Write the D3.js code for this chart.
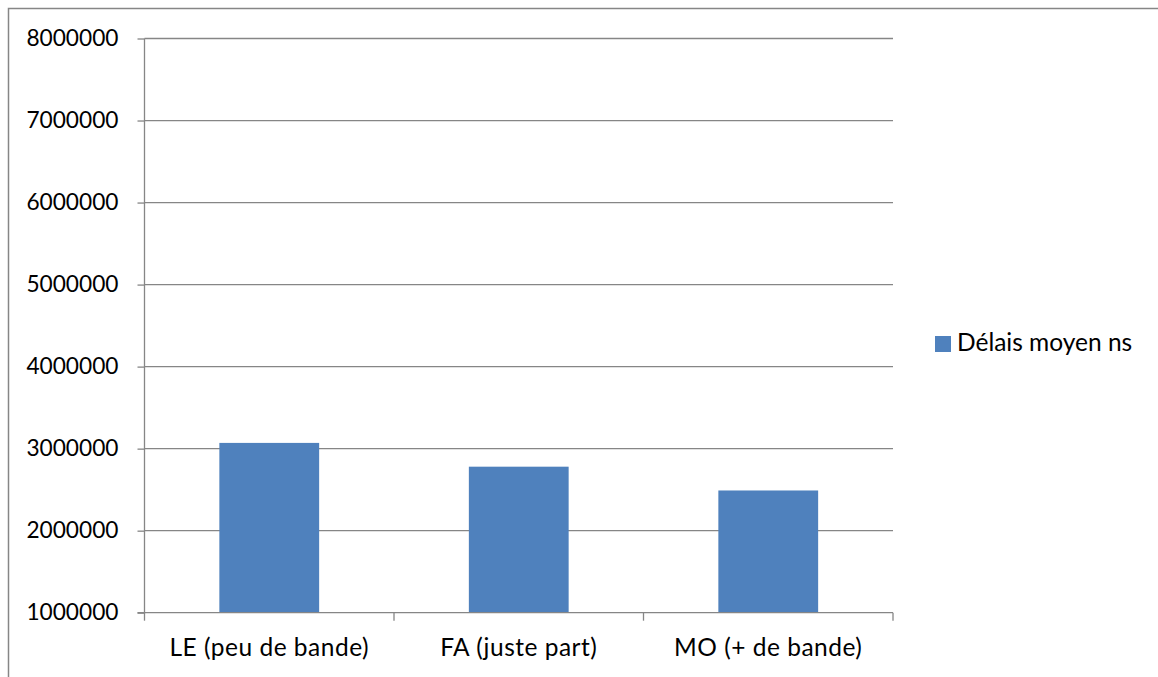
<!DOCTYPE html>
<html><head><meta charset="utf-8">
<script src="https://cdn.jsdelivr.net/npm/d3@7"></script>
<style>body{margin:0;background:#fff}svg{display:block}text{font-family:Lato,"Open Sans",sans-serif;fill:#000}</style>
</head><body><svg id="c" width="1158" height="677"></svg>
<script>
const categories = ["LE (peu de bande)", "FA (juste part)", "MO (+ de bande)"];
const values = [3070000, 2780000, 2490000];
const seriesName = "Délais moyen ns";
const yTicks = [1000000, 2000000, 3000000, 4000000, 5000000, 6000000, 7000000, 8000000];

(function(){
const svg = d3.select("#c");
const pLeft = 144.5, pRight = 893, pTop = 38.5, pBottom = 612.7;
const x = d3.scaleBand().domain(categories).range([pLeft, pRight]).paddingInner(0.6).paddingOuter(0.3);
const xb = d3.scaleBand().domain(categories).range([pLeft, pRight]);
const y = d3.scaleLinear().domain([1000000, 8000000]).range([pBottom, pTop]);
const grey = "#868686";

// chart border (top and left visible)
svg.append("path").attr("d", `M8.5,677 V8.5 H1158`).attr("fill","none").attr("stroke", grey).attr("stroke-width",1.5);

// gridlines
svg.append("g").selectAll("line").data(yTicks.slice(1)).join("line")
  .attr("x1", pLeft).attr("x2", pRight).attr("y1", d=>y(d)).attr("y2", d=>y(d))
  .attr("stroke", grey).attr("stroke-width",1.3);

// bars
svg.append("g").selectAll("rect").data(values).join("rect")
  .attr("x", (d,i)=>x(categories[i])).attr("width", x.bandwidth())
  .attr("y", d=>y(d)).attr("height", d=>pBottom - y(d))
  .attr("fill", "#4f81bd");

// y axis
const ya = svg.append("g").attr("transform",`translate(${pLeft},0)`)
  .call(d3.axisLeft(y).tickValues(yTicks).tickFormat(d3.format("d")).tickSize(7).tickPadding(19));
ya.select(".domain").attr("stroke", grey).attr("stroke-width",1.3).attr("d", `M-7,${pBottom}H0V${pTop}`);
ya.selectAll(".tick line").attr("stroke", grey).attr("stroke-width",1.3);
ya.selectAll("text").attr("font-size", 22.7).attr("font-family","Lato").attr("fill","#000");

// x axis
const xa = svg.append("g").attr("transform",`translate(0,${pBottom})`)
  .call(d3.axisBottom(xb).tickSize(0).tickPadding(26));
xa.select(".domain").attr("stroke", grey).attr("stroke-width",1.3).attr("d", `M${pLeft},0H${pRight}`);
xa.selectAll("text").attr("font-size", 24.5).attr("letter-spacing", 0.5).attr("font-family","Lato").attr("fill","#000");
const bounds = [pLeft, ...categories.map(c => xb(c) + xb.bandwidth())];
xa.append("g").selectAll("line").data(bounds).join("line")
  .attr("x1", d=>d).attr("x2", d=>d).attr("y1", 0).attr("y2", 8)
  .attr("stroke", grey).attr("stroke-width",1.3);

// legend
const lg = svg.append("g").attr("transform","translate(935,336)");
lg.append("rect").attr("width",16).attr("height",16).attr("fill","#4f81bd");
lg.append("text").attr("x",22).attr("y",15).attr("font-size", 24.5).text(seriesName);
})();
</script></body></html>
